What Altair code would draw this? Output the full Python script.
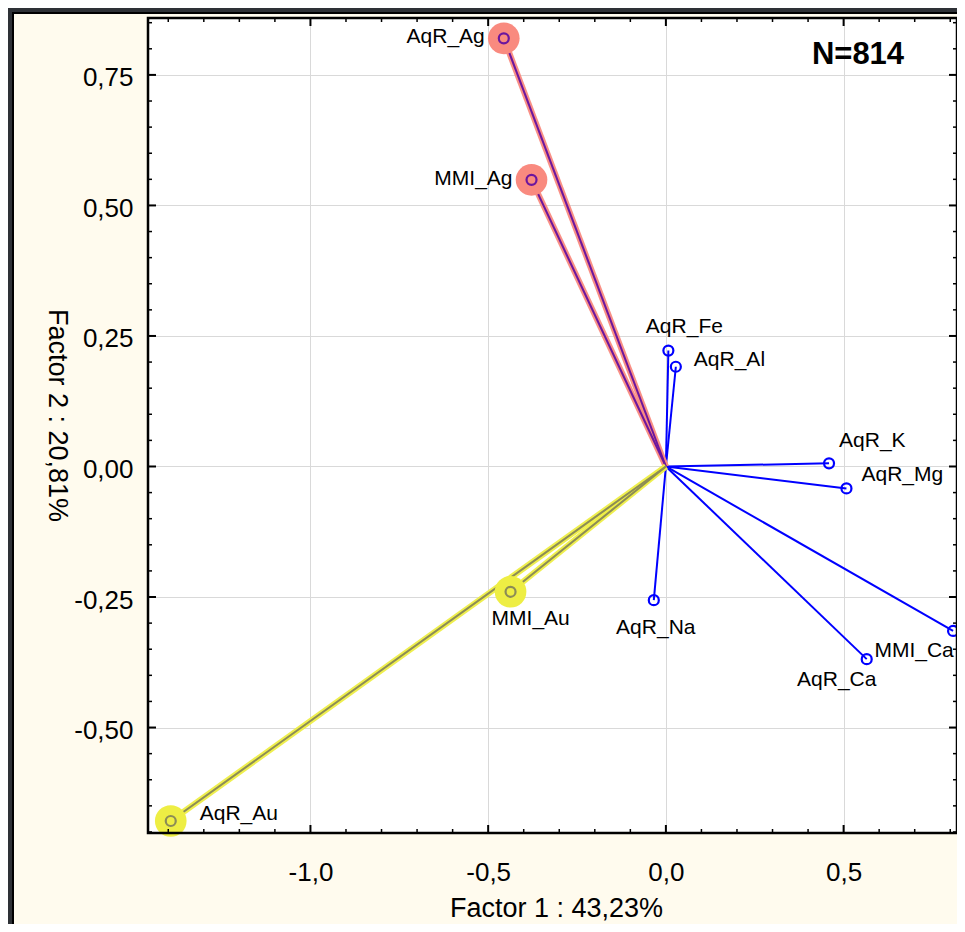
import altair as alt
import pandas as pd

# ---- data ----
names = ["AqR_Ag", "MMI_Ag", "AqR_Fe", "AqR_Al", "AqR_K", "AqR_Mg",
         "AqR_Na", "MMI_Ca", "AqR_Ca", "MMI_Au", "AqR_Au"]
factor1 = [-0.456, -0.378, 0.007, 0.028, 0.459, 0.508,
           -0.034, 0.808, 0.565, -0.437, -1.393]
factor2 = [0.820, 0.549, 0.222, 0.191, 0.006, -0.042,
           -0.256, -0.315, -0.369, -0.240, -0.679]
groups = ["Ag", "Ag", "other", "other", "other", "other",
          "other", "other", "other", "Au", "Au"]
label_side = ["W", "W", "N", "E", "NE", "ENE", "S", "SWW", "SW", "SE", "EE"]

x_major = [-1.0, -0.5, 0.0, 0.5]
y_major = [-0.5, -0.25, 0.0, 0.25, 0.5, 0.75]
x_minor = [-1.4, -1.3, -1.2, -1.1, -0.9, -0.8, -0.7, -0.6, -0.4, -0.3,
           -0.2, -0.1, 0.1, 0.2, 0.3, 0.4, 0.6, 0.7, 0.8]
y_minor = [-0.70, -0.65, -0.60, -0.55, -0.45, -0.40, -0.35, -0.30, -0.20,
           -0.15, -0.10, -0.05, 0.05, 0.10, 0.15, 0.20, 0.30, 0.35, 0.40,
           0.45, 0.55, 0.60, 0.65, 0.70, 0.80, 0.85]
x_title = "Factor 1 : 43,23%"
y_title = "Factor 2 : 20,81%"
n_label = ["N=814"]

df = pd.DataFrame(dict(name=names, f1=factor1, f2=factor2,
                       group=groups, side=label_side))
one = pd.DataFrame({"t": n_label})

W, H = 809, 815
FONT = "Liberation Sans"
xs = alt.Scale(domain=[-1.457, 0.819], nice=False, zero=False)
ys = alt.Scale(domain=[-0.702, 0.859], nice=False, zero=False)

xaxis = alt.Axis(
    values=x_major, title=x_title, grid=True, gridColor="#d9d9d9", gridWidth=1,
    ticks=False, tickSize=0, domain=False,
    labelExpr="(datum.value < 0 ? '-' : '') + replace(format(abs(datum.value), '.1f'), '.', ',')",
    labelPadding=26, labelFont=FONT, labelFontSize=26, labelColor="black",
    titleFont=FONT, titleFontSize=27, titleFontWeight="normal", titleColor="black",
    titleX=408, titleY=75, titleAlign="center", titleBaseline="middle",
)
yaxis = alt.Axis(
    values=y_major, title=y_title, grid=True, gridColor="#d9d9d9", gridWidth=1,
    ticks=False, tickSize=0, domain=False,
    labelExpr="(datum.value < 0 ? '-' : '') + replace(format(abs(datum.value), '.2f'), '.', ',')",
    labelPadding=15, labelOffset=3, labelFont=FONT, labelFontSize=26, labelColor="black",
    titleFont=FONT, titleFontSize=27, titleFontWeight="normal", titleColor="black",
    titleAngle=90, titleX=-92, titleY=397, titleAlign="center", titleBaseline="middle",
)

def XY():
    return dict(x=alt.X("f1:Q", scale=xs, axis=xaxis), y=alt.Y("f2:Q", scale=ys, axis=yaxis))

layers = []

# dark frame strips outside the cream area
dark = "#2e3136"
frame = alt.Chart(one)
layers.append(frame.mark_rect(color=dark).encode(
    x=alt.value(-140), x2=alt.value(W + 20), y=alt.value(-10), y2=alt.value(-6)))
layers.append(frame.mark_rect(color=dark).encode(
    x=alt.value(-140), x2=alt.value(-136), y=alt.value(-10), y2=alt.value(H + 120)))
layers.append(frame.mark_rect(color="black").encode(
    x=alt.value(-136), x2=alt.value(W + 20), y=alt.value(-6), y2=alt.value(-4)))
layers.append(frame.mark_rect(color="black").encode(
    x=alt.value(-136), x2=alt.value(-134), y=alt.value(-6), y2=alt.value(H + 120)))

base = alt.Chart(df)
# blue loading vectors
layers.append(base.mark_rule(color="#0000ff", strokeWidth=2).encode(
    **XY(), x2=alt.datum(0), y2=alt.datum(0)))

highlight = {"Ag": ("#f98a7f", "#6c169e"), "Au": ("#eeee44", "#8c8c56")}
for g, (wide_c, thin_c) in highlight.items():
    sub = base.transform_filter(alt.datum.group == g)
    layers.append(sub.mark_rule(color=wide_c, strokeWidth=6, opacity=0.95).encode(
        **XY(), x2=alt.datum(0), y2=alt.datum(0)))
    layers.append(sub.mark_rule(color=thin_c, strokeWidth=2).encode(
        **XY(), x2=alt.datum(0), y2=alt.datum(0)))
    layers.append(sub.mark_point(shape="circle", filled=True, color=wide_c,
                                 size=1000, opacity=1, strokeWidth=0).encode(**XY()))

ring_color = {"other": "#0000ff", "Ag": "#6c169e", "Au": "#8c8c56"}
for g, c in ring_color.items():
    layers.append(base.transform_filter(alt.datum.group == g).mark_point(
        shape="circle", filled=False, color=c, size=100, strokeWidth=2.2, opacity=1
    ).encode(**XY()))

placements = {
    "W": dict(align="right", dx=-19, dy=-1),
    "N": dict(align="center", dx=16, dy=-24),
    "E": dict(align="left", dx=18, dy=-7),
    "ENE": dict(align="left", dx=15, dy=-13),
    "NE": dict(align="left", dx=10, dy=-22),
    "S": dict(align="center", dx=2, dy=28),
    "SW": dict(align="center", dx=-30, dy=21),
    "SWW": dict(align="center", dx=-39, dy=20),
    "SE": dict(align="left", dx=-19, dy=27),
    "EE": dict(align="left", dx=29, dy=-7),
}
for code, p in placements.items():
    layers.append(base.transform_filter(alt.datum.side == code).mark_text(
        font=FONT, fontSize=21, color="black", baseline="middle", **p
    ).encode(**XY(), text="name:N"))

layers.append(alt.Chart(one).mark_text(
    font=FONT, fontSize=31, fontWeight="bold", color="black",
    align="center", baseline="middle").encode(
    x=alt.value(710), y=alt.value(37), text="t:N"))

# inward ticks on all four sides
def xticks(vals, length, sw):
    d = alt.Chart(pd.DataFrame({"v": vals}))
    xe = alt.X("v:Q", scale=xs, axis=xaxis)
    return [
        d.mark_rule(color="black", strokeWidth=sw).encode(x=xe, y=alt.value(H), y2=alt.value(H - length)),
        d.mark_rule(color="black", strokeWidth=sw).encode(x=xe, y=alt.value(0), y2=alt.value(length)),
    ]

def yticks(vals, length, sw):
    d = alt.Chart(pd.DataFrame({"v": vals}))
    ye = alt.Y("v:Q", scale=ys, axis=yaxis)
    return [
        d.mark_rule(color="black", strokeWidth=sw).encode(y=ye, x=alt.value(0), x2=alt.value(length)),
        d.mark_rule(color="black", strokeWidth=sw).encode(y=ye, x=alt.value(W), x2=alt.value(W - length)),
    ]

layers += xticks(x_major, 8, 2) + xticks(x_minor, 4, 1.5)
layers += yticks(y_major, 8, 2) + yticks(y_minor, 4, 1.5)

# plot border
layers.append(alt.Chart(one).mark_rect(filled=False, stroke="black", strokeWidth=2.5).encode(
    x=alt.value(0), x2=alt.value(W), y=alt.value(0), y2=alt.value(H)))

chart = alt.layer(*layers).properties(
    width=W, height=H,
    padding={"left": 140, "top": 10, "right": 0, "bottom": 91},
    autosize=alt.AutoSizeParams(type="none"),
    background="#fffbee",
).configure_view(stroke=None, fill="white")

chart.save("out.html", embed_options={"renderer": "svg", "actions": False})
